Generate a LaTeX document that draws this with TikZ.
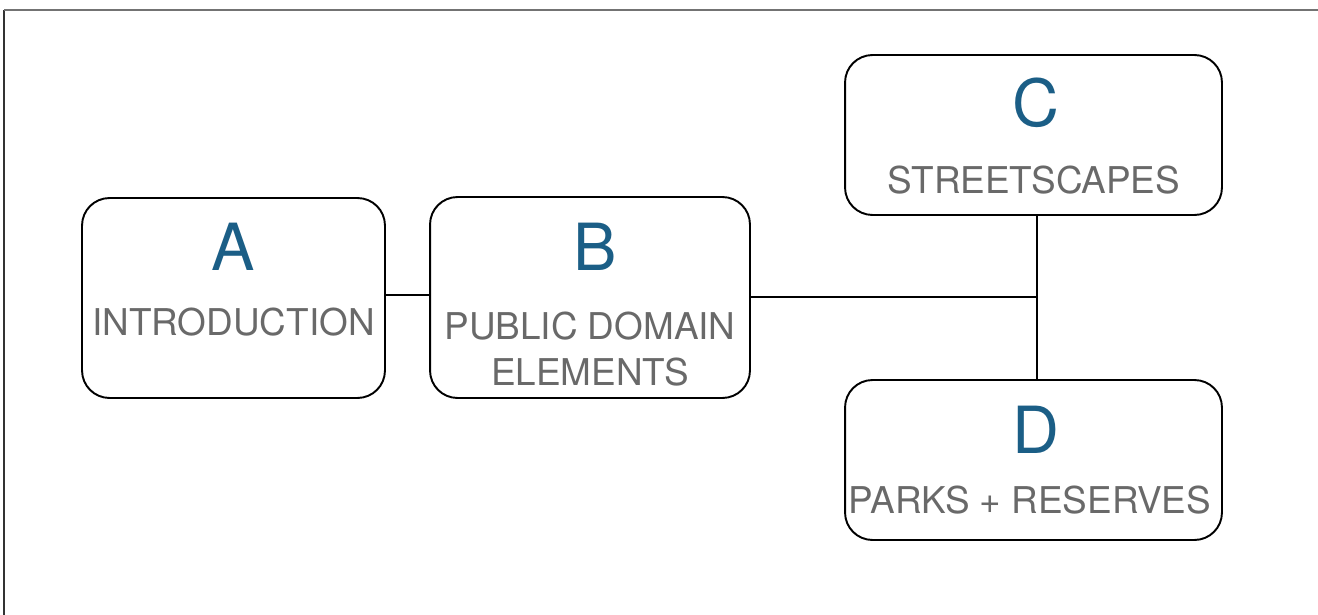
\documentclass[tikz,border=0pt]{standalone}
\usepackage{fontspec}
\setmainfont{TeX Gyre Heros}
\usepackage{tikz}
\usetikzlibrary{calc,positioning}
\definecolor{letterblue}{HTML}{1B5E86}
\definecolor{labelgrey}{HTML}{696969}

\begin{document}
\begin{tikzpicture}[x=0.02cm,y=-0.02cm,
  box/.style={draw,line width=1.1pt,rounded corners=0.55cm,rectangle},
  letter/.style={text=letterblue,font=\fontsize{37}{40}\selectfont,inner sep=0pt},
  caption/.style={text=labelgrey,font=\fontsize{21}{26}\selectfont,align=center,inner sep=0pt},
  link/.style={line width=1.1pt}]
\useasboundingbox (0,0) rectangle (1318,615);
% page frame
\draw[line width=1.2pt,black!80] (4,615) -- (4,10);
\draw[line width=1.4pt,black!55] (4,10) -- (1318,10);
% boxes
\node[box,minimum width=6.06cm,minimum height=4cm] (a) at (233.5,298) {};
\node[box,minimum width=6.4cm,minimum height=4.02cm] (b) at (590,297.5) {};
\node[box,minimum width=7.54cm,minimum height=3.2cm] (c) at (1033.5,135) {};
\node[box,minimum width=7.54cm,minimum height=3.2cm] (d) at (1033.5,460) {};
% letters and captions
\node[letter] (aL) at (233.5,247) {A};
\node[caption] (aT) at (233.5,322) {INTRODUCTION};
\node[letter] (bL) at (595,247) {B};
\node[caption] (bT) at (590,349) {PUBLIC DOMAIN\\ELEMENTS};
\node[letter] (cL) at (1036,103) {C};
\node[caption] (cT) at (1034,180) {STREETSCAPES};
\node[letter] (dL) at (1036,430) {D};
\node[caption] (dT) at (1030,500) {PARKS + RESERVES};
% connectors
\coordinate (j) at (1037,297);
\draw[link] (a.east |- 0,295) -- (b.west |- 0,295);
\draw[link] (b.east |- j) -- (j);
\draw[link] (c.south -| j) -- (d.north -| j);
\end{tikzpicture}
\end{document}
